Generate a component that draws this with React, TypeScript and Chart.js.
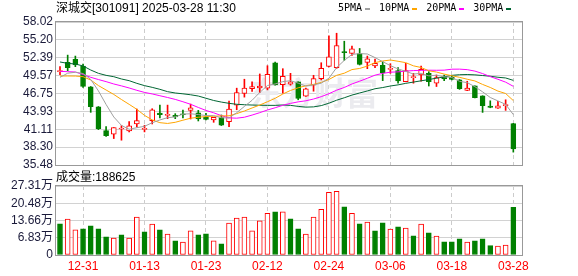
import React, { useEffect, useRef } from 'react';
import { Chart, registerables } from 'chart.js';

Chart.register(...registerables);

const titleText = '深城交[301091] 2025-03-28 11:30';
const volumeTitle = '成交量:188625';
const watermarkText = '东方财富';

const dates = [
  '12-26', '12-27', '12-30', '12-31', '01-02', '01-03', '01-06', '01-07', '01-08', '01-09',
  '01-10', '01-13', '01-14', '01-15', '01-16', '01-17', '01-20', '01-21', '01-22', '01-23',
  '01-24', '01-27', '02-05', '02-06', '02-07', '02-10', '02-11', '02-12', '02-13', '02-14',
  '02-17', '02-18', '02-19', '02-20', '02-21', '02-24', '02-25', '02-26', '02-27', '02-28',
  '03-03', '03-04', '03-05', '03-06', '03-07', '03-10', '03-11', '03-12', '03-13', '03-14',
  '03-17', '03-18', '03-19', '03-20', '03-21', '03-24', '03-25', '03-26', '03-27', '03-28',
];

const opens = [
  50.20, 51.65, 52.12, 51.08, 47.79, 44.66, 40.91, 40.33, 41.15, 40.85,
  41.95, 41.10, 42.47, 43.67, 43.30, 43.31, 43.55, 44.09, 43.72, 43.05,
  42.58, 42.94, 42.32, 44.92, 46.75, 47.53, 47.64, 47.59, 51.60, 48.16,
  48.21, 48.58, 46.33, 48.06, 49.10, 51.03, 50.82, 53.30, 53.06, 53.06,
  51.65, 51.08, 51.18, 50.56, 50.35, 48.63, 49.25, 49.67, 49.93, 48.37,
  49.50, 49.35, 48.89, 47.22, 47.95, 46.38, 44.77, 44.45, 44.85, 42.00,
];
const highs = [
  51.00, 52.80, 52.65, 51.39, 47.85, 44.70, 41.53, 41.38, 41.69, 42.31,
  44.30, 41.74, 44.35, 44.92, 44.92, 43.57, 44.14, 45.08, 44.09, 43.62,
  43.00, 43.36, 45.55, 47.59, 49.00, 48.58, 49.83, 51.13, 51.71, 50.66,
  49.93, 48.60, 47.59, 49.62, 51.60, 55.83, 56.25, 54.99, 54.21, 53.85,
  52.65, 52.18, 51.76, 51.45, 50.82, 51.50, 49.93, 51.08, 50.19, 49.67,
  49.67, 49.50, 48.95, 48.68, 47.95, 46.40, 45.60, 45.50, 45.76, 42.05,
];
const lows = [
  49.70, 50.35, 50.98, 47.69, 43.78, 41.06, 39.97, 39.65, 39.39, 40.70,
  41.48, 40.70, 41.95, 42.89, 42.78, 42.78, 42.89, 42.73, 42.42, 42.60,
  42.21, 41.70, 41.53, 44.19, 46.18, 47.06, 46.91, 47.32, 48.06, 46.80,
  48.06, 45.76, 46.30, 47.11, 48.89, 50.92, 50.71, 51.97, 52.75, 51.24,
  50.66, 50.82, 48.78, 49.93, 48.37, 48.60, 48.37, 48.68, 47.93, 47.85,
  48.78, 48.90, 47.40, 47.20, 46.05, 43.77, 44.50, 44.40, 44.09, 37.51,
];
const closes = [
  50.30, 50.82, 51.24, 47.85, 44.66, 41.22, 40.12, 41.38, 41.20, 41.64,
  42.47, 41.20, 44.19, 43.41, 43.45, 43.05, 43.40, 44.51, 42.73, 42.68,
  43.00, 41.74, 44.30, 46.91, 47.59, 47.85, 47.90, 49.78, 48.11, 49.46,
  48.58, 45.97, 47.48, 49.10, 50.71, 52.54, 54.32, 53.20, 53.79, 51.34,
  52.23, 51.50, 49.98, 50.66, 48.73, 50.35, 49.36, 50.56, 48.63, 49.25,
  49.05, 48.98, 47.50, 47.62, 46.10, 44.82, 44.56, 44.82, 44.92, 38.00,
];

// volume in 万 (10,000 shares)
const volumes = [
  12.34, 14.18, 9.98, 10.37, 11.55, 10.37, 7.22, 6.70, 8.01, 6.70,
  14.97, 9.19, 12.21, 9.98, 8.27, 5.65, 5.12, 9.58, 8.01, 8.40,
  5.65, 4.46, 12.60, 14.57, 14.97, 9.58, 13.52, 16.54, 17.07, 17.07,
  14.31, 10.37, 8.27, 14.97, 18.12, 24.82, 25.21, 19.04, 16.54, 12.34,
  13.00, 9.58, 12.74, 10.24, 11.16, 10.64, 7.62, 12.21, 8.80, 7.48,
  5.25, 5.25, 6.43, 5.12, 5.65, 6.43, 3.68, 3.55, 3.94, 18.8625,
];
const firstVolumeUp = false;

const ma5 = [
  49.30, 49.95, 50.10, 49.90, 48.97, 47.16, 45.02, 43.05, 41.72, 41.11,
  41.36, 41.58, 42.14, 42.58, 42.94, 43.06, 43.50, 43.56, 43.43, 43.27,
  43.26, 42.93, 42.89, 43.73, 44.71, 45.68, 46.91, 48.01, 48.25, 48.62,
  48.77, 48.38, 47.92, 48.12, 48.37, 49.16, 50.83, 51.97, 52.91, 53.04,
  52.98, 52.41, 51.77, 51.14, 50.62, 50.24, 49.82, 49.93, 49.53, 49.63,
  49.37, 49.28, 48.67, 48.46, 47.83, 47.01, 46.12, 45.58, 45.04, 43.42,
];
const ma10 = [
  49.51, 49.51, 49.50, 49.40, 48.88, 48.00, 47.30, 46.60, 45.80, 45.04,
  44.26, 43.30, 42.59, 42.15, 42.03, 42.21, 42.54, 42.85, 43.01, 43.11,
  43.16, 43.22, 43.23, 43.58, 43.99, 44.47, 44.93, 45.45, 45.99, 46.67,
  47.23, 47.65, 47.97, 48.19, 48.50, 48.96, 49.61, 49.95, 50.52, 50.70,
  51.07, 51.62, 51.87, 52.03, 51.83, 51.61, 51.11, 50.85, 50.33, 50.13,
  49.81, 49.55, 49.30, 49.00, 48.73, 48.18, 47.70, 47.13, 46.75, 45.63,
];
const ma20 = [
  50.24, 50.19, 50.14, 49.75, 49.30, 48.95, 48.62, 48.25, 47.95, 47.62,
  47.25, 46.92, 46.68, 46.40, 46.12, 45.82, 45.45, 45.05, 44.55, 44.08,
  43.71, 43.26, 42.91, 42.86, 43.01, 43.35, 43.73, 44.15, 44.50, 44.89,
  45.19, 45.43, 45.60, 45.88, 46.25, 46.72, 47.27, 47.70, 48.25, 48.69,
  49.15, 49.64, 49.92, 50.11, 50.16, 50.28, 50.36, 50.40, 50.42, 50.41,
  50.43, 50.58, 50.59, 50.51, 50.28, 49.89, 49.41, 48.99, 48.54, 47.88,
];
const ma30 = [
  51.72, 51.50, 51.40, 51.09, 50.45, 49.93, 49.61, 49.40, 49.04, 48.77,
  48.35, 47.99, 47.72, 47.41, 47.04, 46.83, 46.70, 46.55, 46.35, 46.00,
  45.65, 45.40, 45.20, 45.05, 44.98, 44.93, 44.90, 44.88, 44.88, 44.94,
  44.88, 44.72, 44.60, 44.64, 44.84, 45.22, 45.69, 46.08, 46.50, 46.83,
  47.15, 47.50, 47.69, 47.93, 48.11, 48.35, 48.55, 48.75, 48.95, 49.17,
  49.36, 49.61, 49.71, 49.74, 49.69, 49.58, 49.47, 49.31, 49.20, 48.82,
];

const maLabels = ['5PMA', '10PMA', '20PMA', '30PMA'];
const maColors = ['#a0a0a0', '#ffa500', '#ff00ff', '#006633'];

const priceTicks = [35.48, 38.30, 41.11, 43.93, 46.75, 49.57, 52.39, 55.20, 58.02];
const volumeTicks = [0, 6.83, 13.66, 20.48, 27.31];
const dateTicks = ['12-31', '01-13', '01-23', '02-12', '02-24', '03-06', '03-18', '03-28'];

const RED = '#ff0000';
const GREEN = '#008000';
const AXIS_TEXT = '#1a1a3a';
const FONT = '"Liberation Sans", Arial, "Noto Sans CJK SC", sans-serif';
const MONO = '"DejaVu Sans Mono", "Liberation Mono", monospace';

export default function App() {
  const priceRef = useRef<HTMLCanvasElement>(null);
  const volRef = useRef<HTMLCanvasElement>(null);

  useEffect(() => {
    document.body.style.margin = '0';
    const idx = dates.map((_, i) => i);
    const gridIdx = dateTicks.map((d) => dates.indexOf(d));
    const candleUp = idx.map((i) => closes[i] >= opens[i]);
    const volUp = idx.map((i) => (i === 0 ? firstVolumeUp : closes[i] >= closes[i - 1]));
    const xMin = -0.65;
    const xMax = 60.13;

    const framePlugin = {
      id: 'frame',
      afterDraw(chart: any) {
        const { ctx, chartArea: a } = chart;
        ctx.save();
        ctx.strokeStyle = '#999999';
        ctx.lineWidth = 1;
        ctx.strokeRect(
          Math.round(a.left) + 0.5,
          Math.round(a.top) - 0.5,
          Math.round(a.right - a.left),
          Math.round(a.bottom - a.top) + 1
        );
        ctx.restore();
      },
    };

    const headerPlugin = {
      id: 'header',
      afterDraw(chart: any) {
        const { ctx } = chart;
        ctx.save();
        ctx.textBaseline = 'middle';
        ctx.textAlign = 'left';
        ctx.fillStyle = '#000000';
        ctx.font = `12px ${FONT}`;
        ctx.fillText(titleText, 56, 8.5);
        ctx.font = `10px ${MONO}`;
        let x = 338;
        maLabels.forEach((lab, k) => {
          ctx.fillStyle = '#000000';
          ctx.fillText(lab, x, 8.5);
          const w = ctx.measureText(lab).width;
          ctx.fillStyle = maColors[k];
          ctx.fillRect(Math.round(x + w + 3), 8, 5, 2);
          x += w + 3 + 5 + 9;
        });
        ctx.restore();
      },
    };

    const watermarkPlugin = {
      id: 'watermark',
      beforeDatasetsDraw(chart: any) {
        const { ctx } = chart;
        ctx.save();
        ctx.font = `bold 32px "Noto Sans CJK SC", sans-serif`;
        ctx.fillStyle = '#ebebef';
        ctx.textBaseline = 'middle';
        ctx.textAlign = 'right';
        ctx.fillText(watermarkText, 378, 93);
        ctx.restore();
      },
    };

    const volHeaderPlugin = {
      id: 'volHeader',
      afterDraw(chart: any) {
        const { ctx } = chart;
        ctx.save();
        ctx.textBaseline = 'middle';
        ctx.textAlign = 'left';
        ctx.fillStyle = '#000000';
        ctx.font = `12px ${FONT}`;
        ctx.fillText(volumeTitle, 56, 8);
        ctx.restore();
      },
    };

    const xScaleBase = {
      type: 'linear' as const,
      min: xMin,
      max: xMax,
      offset: false,
      bounds: 'data' as const,
      grid: { offset: false, color: '#cccccc', drawTicks: false, lineWidth: 1 },
      border: { display: false, dash: [4, 3] },
      afterBuildTicks: (s: any) => {
        s.ticks = gridIdx.map((v) => ({ value: v }));
      },
    };

    const priceChart = new Chart(priceRef.current as HTMLCanvasElement, {
      type: 'bar',
      data: {
        datasets: [
          ...[ma5, ma10, ma20, ma30].map((arr, k) => ({
            type: 'line' as const,
            label: maLabels[k],
            data: idx.map((i) => ({ x: i, y: arr[i] })),
            borderColor: maColors[k],
            borderWidth: 1,
            pointRadius: 0,
            tension: 0,
            order: 0,
          })),
          {
            type: 'bar' as const,
            label: 'body',
            data: idx.map((i) => ({ x: i, y: [opens[i], closes[i]] })),
            backgroundColor: idx.map((i) => (candleUp[i] ? '#ffffff' : GREEN)),
            borderColor: idx.map((i) => (candleUp[i] ? RED : GREEN)),
            borderWidth: 1,
            borderSkipped: false,
            barThickness: 5,
            minBarLength: 1,
            grouped: false,
            order: 1,
          },
          {
            type: 'bar' as const,
            label: 'wick',
            data: idx.map((i) => ({ x: i, y: [lows[i], highs[i]] })),
            backgroundColor: idx.map((i) => (candleUp[i] ? RED : GREEN)),
            borderWidth: 0,
            barThickness: 1,
            grouped: false,
            order: 2,
          },
        ] as any,
      },
      options: {
        responsive: false,
        animation: false,
        events: [],
        layout: { padding: { left: 0, right: 56, top: 22, bottom: 15 } },
        plugins: {
          legend: { display: false },
          tooltip: { enabled: false },
          title: { display: false },
        },
        scales: {
          x: {
            ...xScaleBase,
            ticks: { display: false },
            afterFit: (s: any) => {
              s.height = 0;
            },
          },
          y: {
            type: 'linear',
            min: 35.48,
            max: 58.02,
            grid: { color: '#d2d2d2', drawTicks: false },
            border: { display: false },
            ticks: {
              padding: 2,
              autoSkip: false,
              color: AXIS_TEXT,
              font: { family: FONT, size: 12 },
              callback: (v: any) => Number(v).toFixed(2),
            },
            afterBuildTicks: (s: any) => {
              s.ticks = priceTicks.map((v) => ({ value: v }));
            },
            afterFit: (s: any) => {
              s.width = 55;
            },
          },
        } as any,
      },
      plugins: [watermarkPlugin, framePlugin, headerPlugin],
    });

    const volChart = new Chart(volRef.current as HTMLCanvasElement, {
      type: 'bar',
      data: {
        datasets: [
          {
            label: 'volume',
            data: idx.map((i) => ({ x: i, y: volumes[i] })),
            backgroundColor: idx.map((i) => (volUp[i] ? '#ffffff' : GREEN)),
            borderColor: idx.map((i) => (volUp[i] ? RED : GREEN)),
            borderWidth: 1,
            borderSkipped: false,
            barThickness: 5,
            grouped: false,
          },
        ] as any,
      },
      options: {
        responsive: false,
        animation: false,
        events: [],
        layout: { padding: { left: 0, right: 56, top: 16, bottom: 0 } },
        plugins: {
          legend: { display: false },
          tooltip: { enabled: false },
          title: { display: false },
        },
        scales: {
          x: {
            ...xScaleBase,
            ticks: {
              color: RED,
              font: { family: FONT, size: 12 },
              padding: 4,
              autoSkip: false,
              maxRotation: 0,
              minRotation: 0,
              callback: (v: any) => dates[Math.round(Number(v))] ?? '',
            },
            afterFit: (s: any) => {
              s.height = 21;
            },
          },
          y: {
            type: 'linear',
            min: 0,
            max: 27.31,
            grid: { color: '#d2d2d2', drawTicks: false },
            border: { display: false },
            ticks: {
              padding: 2,
              autoSkip: false,
              color: AXIS_TEXT,
              font: { family: FONT, size: 12 },
              callback: (v: any) => (Number(v) === 0 ? '0' : Number(v).toFixed(2) + '万'),
            },
            afterBuildTicks: (s: any) => {
              s.ticks = volumeTicks.map((v) => ({ value: v }));
            },
            afterFit: (s: any) => {
              s.width = 55;
            },
          },
        } as any,
      },
      plugins: [framePlugin, volHeaderPlugin],
    });

    return () => {
      priceChart.destroy();
      volChart.destroy();
    };
  }, []);

  return (
    <div style={{ position: 'relative', width: 578, height: 276, background: '#ffffff', overflow: 'hidden' }}>
      <canvas ref={priceRef} width={578} height={180} style={{ position: 'absolute', left: 0, top: 0 }} />
      <canvas ref={volRef} width={578} height={106} style={{ position: 'absolute', left: 0, top: 170 }} />
    </div>
  );
}
